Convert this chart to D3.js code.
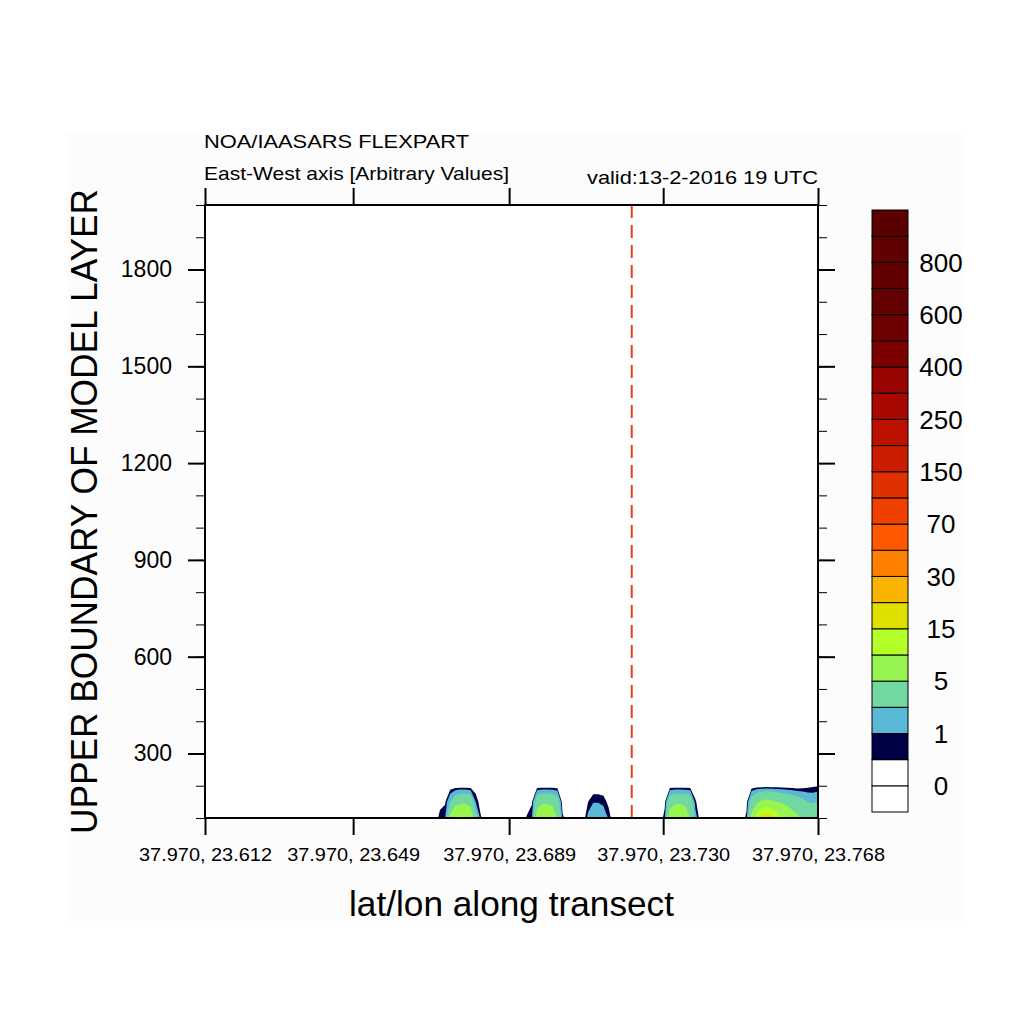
<!DOCTYPE html>
<html>
<head>
<meta charset="utf-8">
<script src="https://cdn.jsdelivr.net/npm/d3@7"></script>
<style>
  body { margin: 0; background: #fff; }
  svg text { font-family: "Liberation Sans", Arial, Helvetica, sans-serif; fill: #000; }
</style>
</head>
<body>
<svg id="chart" width="1024" height="1024"></svg>
<script>
// FLEXPART vertical cross-section along an east-west transect

// transect grid: 121 points along longitude, 3 model levels (upper boundary, m)
var lonStart = 23.612;
var lonEnd = 23.768;
var levelHeights = [100, 150, 200];

// concentrations on each level (arbitrary units), west -> east
var conc100 = [
  0, 0, 0, 0, 0, 0, 0, 0, 0, 0,
  0, 0, 0, 0, 0, 0, 0, 0, 0, 0,
  0, 0, 0, 0, 0, 0, 0, 0, 0, 0,
  0, 0, 0, 0, 0, 0, 0, 0, 0, 0,
  0, 0, 0, 0, 0, 0, 0.8, 0.95, 6, 9.5,
  11.5, 11, 8, 3, 0.6, 0, 0, 0, 0, 0,
  0, 0, 0, 0.6, 0.95, 7, 10.5, 10.8, 8, 5,
  0.7, 0, 0, 0, 0, 1.3, 1.8, 1.9, 1.6, 0.9,
  0, 0, 0, 0, 0, 0, 0, 0, 0, 0,
  0.8, 7, 10.5, 10.5, 8, 5, 1.5, 0, 0, 0,
  0, 0, 0, 0, 0, 0, 0.7, 6, 12, 17,
  18, 16.5, 13, 10, 8, 6.5, 5.5, 4.8, 4.2, 3.8,
  3.6
];
var conc150 = [
  0, 0, 0, 0, 0, 0, 0, 0, 0, 0,
  0, 0, 0, 0, 0, 0, 0, 0, 0, 0,
  0, 0, 0, 0, 0, 0, 0, 0, 0, 0,
  0, 0, 0, 0, 0, 0, 0, 0, 0, 0,
  0, 0, 0, 0, 0, 0, 0.2, 0.4, 2, 3.5,
  4.2, 4.2, 3.6, 1.0, 0, 0, 0, 0, 0, 0,
  0, 0, 0, 0, 0.4, 3.5, 4.2, 4.2, 4, 3.2,
  0, 0, 0, 0, 0, 0.5, 0.95, 0.95, 0.8, 0.3,
  0, 0, 0, 0, 0, 0, 0, 0, 0, 0,
  0.3, 3.5, 4.2, 4.2, 4, 3.5, 0.6, 0, 0, 0,
  0, 0, 0, 0, 0, 0, 0.2, 3, 4.5, 5.5,
  6, 5.5, 5, 4.5, 4, 3.5, 3, 2.5, 2, 1.8,
  2
];
var conc200 = [
  0, 0, 0, 0, 0, 0, 0, 0, 0, 0,
  0, 0, 0, 0, 0, 0, 0, 0, 0, 0,
  0, 0, 0, 0, 0, 0, 0, 0, 0, 0,
  0, 0, 0, 0, 0, 0, 0, 0, 0, 0,
  0, 0, 0, 0, 0, 0, 0, 0, 0, 0,
  0, 0, 0, 0, 0, 0, 0, 0, 0, 0,
  0, 0, 0, 0, 0, 0, 0, 0, 0, 0,
  0, 0, 0, 0, 0, 0, 0, 0, 0, 0,
  0, 0, 0, 0, 0, 0, 0, 0, 0, 0,
  0, 0, 0, 0, 0, 0, 0, 0, 0, 0,
  0, 0, 0, 0, 0, 0, 0, 0, 0, 0,
  0, 0, 0, 0, 0, 0, 0, 0.15, 0.3, 0.4,
  0.45
];

// contour levels and colours (one more colour than levels)
var levels = [0, 0.5, 1, 2, 5, 10, 15, 20, 30, 50, 70, 100, 150, 200, 250, 300, 400, 500, 600, 700, 800, 900];
var bandColors = ['#ffffff', '#ffffff', '#000046', '#58b8d6', '#70d8a0', '#98f450', '#b4ff28', '#e0e000',
  '#f8b400', '#ff8000', '#ff5800', '#f04000', '#e03000', '#cc1c00', '#bc1000', '#a80800', '#980400',
  '#7c0000', '#6e0000', '#640000', '#620000', '#600000', '#5a0000'];
var barLabels = [0, 1, 5, 15, 30, 70, 150, 250, 400, 600, 800];

// axes
var yMajor = [300, 600, 900, 1200, 1500, 1800];
var yMinor = [100, 200, 300, 400, 500, 600, 700, 800, 900, 1000, 1100, 1200, 1300, 1400, 1500, 1600, 1700, 1800, 1900, 2000];
var xTickLon = [23.612, 23.6497, 23.6894, 23.7286, 23.768];
var xTickLabels = ['37.970, 23.612', '37.970, 23.649', '37.970, 23.689', '37.970, 23.730', '37.970, 23.768'];
var sourceLon = 23.7206;

var titleLeft = 'NOA/IAASARS FLEXPART';
var subLeft = 'East-West axis [Arbitrary Values]';
var subRight = 'valid:13-2-2016 19 UTC';

var plot = { left: 205, right: 818, top: 205, bottom: 818 };

var svg = d3.select('#chart');

var x = d3.scaleLinear().domain([lonStart, lonEnd]).range([plot.left, plot.right]);
var y = d3.scaleLinear().domain([100, 2000]).range([plot.bottom, plot.top]);

// faint page background and white plot area
svg.append('rect').attr('x', 67).attr('y', 133).attr('width', 896).attr('height', 788).attr('fill', '#fcfcfc');
svg.append('rect')
  .attr('x', plot.left).attr('y', plot.top)
  .attr('width', plot.right - plot.left).attr('height', plot.bottom - plot.top)
  .attr('fill', '#fff');

svg.append('clipPath').attr('id', 'plotclip')
  .append('rect')
  .attr('x', plot.left).attr('y', plot.top)
  .attr('width', plot.right - plot.left).attr('height', plot.bottom - plot.top);

// filled contours
var nx = conc100.length, ny = levelHeights.length;
var values = [].concat(conc100, conc150, conc200);
var colLon = d3.scaleLinear().domain([0, nx - 1]).range([lonStart, lonEnd]);
var rowHeight = d3.scaleLinear().domain([0, ny - 1]).range([levelHeights[0], levelHeights[ny - 1]]);

var gridProj = d3.geoTransform({
  point: function(gx, gy) {
    this.stream.point(x(colLon(gx - 0.5)), y(rowHeight(gy - 0.5)));
  }
});
var path = d3.geoPath(gridProj);

var bands = d3.contours().size([nx, ny]).thresholds(levels.slice(1))(values);

svg.append('g').attr('clip-path', 'url(#plotclip)')
  .selectAll('path')
  .data(bands)
  .enter()
  .append('path')
  .attr('d', path)
  .attr('fill', function(d) { return bandColors[levels.indexOf(d.value) + 1]; })
  .attr('stroke', 'none');

// source marker
svg.append('line')
  .attr('x1', x(sourceLon)).attr('x2', x(sourceLon))
  .attr('y1', plot.top).attr('y2', plot.bottom)
  .attr('stroke', '#e4401c').attr('stroke-width', 2)
  .attr('stroke-dasharray', '13,7');

// axes
function drawAxis(axis, tx, ty, width) {
  var g = svg.append('g').attr('transform', 'translate(' + tx + ',' + ty + ')').call(axis);
  g.select('.domain').remove();
  g.selectAll('.tick line').attr('stroke', '#000').attr('stroke-width', width);
  return g;
}

drawAxis(d3.axisLeft(y).tickValues(yMinor).tickSize(9).tickFormat(''), plot.left, 0, 1);
drawAxis(d3.axisRight(y).tickValues(yMinor).tickSize(9).tickFormat(''), plot.right, 0, 1);
var yLeft = drawAxis(d3.axisLeft(y).tickValues(yMajor).tickSize(17).tickPadding(16).tickFormat(d3.format('d')), plot.left, 0, 2);
yLeft.selectAll('text').attr('font-size', 23).attr('font-family', null);
drawAxis(d3.axisRight(y).tickValues(yMajor).tickSize(17).tickFormat(''), plot.right, 0, 2);

drawAxis(d3.axisTop(x).tickValues(xTickLon).tickSize(17).tickFormat(''), 0, plot.top, 2);
var xBottom = drawAxis(d3.axisBottom(x).tickValues(xTickLon).tickSize(17).tickPadding(13)
  .tickFormat(function(d, i) { return xTickLabels[i]; }), 0, plot.bottom, 2);
xBottom.selectAll('text').attr('font-size', 18.5).attr('font-family', null)
  .attr('textLength', 133).attr('lengthAdjust', 'spacingAndGlyphs');

// frame
svg.append('rect')
  .attr('x', plot.left).attr('y', plot.top)
  .attr('width', plot.right - plot.left).attr('height', plot.bottom - plot.top)
  .attr('fill', 'none').attr('stroke', '#000').attr('stroke-width', 2);

// titles
svg.append('text').attr('x', 204).attr('y', 148).attr('font-size', 19)
  .attr('textLength', 265).attr('lengthAdjust', 'spacingAndGlyphs').text(titleLeft);
svg.append('text').attr('x', 204).attr('y', 180).attr('font-size', 19)
  .attr('textLength', 305).attr('lengthAdjust', 'spacingAndGlyphs').text(subLeft);
svg.append('text').attr('x', 587).attr('y', 184).attr('font-size', 19)
  .attr('textLength', 231).attr('lengthAdjust', 'spacingAndGlyphs').text(subRight);

svg.append('text')
  .attr('x', (plot.left + plot.right) / 2).attr('y', 916)
  .attr('text-anchor', 'middle').attr('font-size', 35)
  .attr('textLength', 325).attr('lengthAdjust', 'spacingAndGlyphs')
  .text('lat/lon along transect');

svg.append('text')
  .attr('transform', 'translate(97,' + (plot.top + plot.bottom) / 2 + ') rotate(-90)')
  .attr('text-anchor', 'middle').attr('font-size', 37)
  .attr('textLength', 645).attr('lengthAdjust', 'spacingAndGlyphs')
  .text('UPPER BOUNDARY OF MODEL LAYER');

// colour bar
var bar = { x: 872, w: 36, top: 210, bottom: 812 };
var barY = d3.scaleLinear().domain([0, bandColors.length]).range([bar.bottom, bar.top]);

svg.append('g').selectAll('rect')
  .data(bandColors)
  .enter()
  .append('rect')
  .attr('x', bar.x)
  .attr('y', function(d, i) { return barY(i + 1); })
  .attr('width', bar.w)
  .attr('height', function(d, i) { return barY(i) - barY(i + 1); })
  .attr('fill', function(d) { return d; })
  .attr('stroke', '#000').attr('stroke-width', 1);

svg.append('g').selectAll('text')
  .data(barLabels)
  .enter()
  .append('text')
  .attr('x', 941)
  .attr('y', function(d) { return barY(levels.indexOf(d) + 1); })
  .attr('dy', '0.36em')
  .attr('text-anchor', 'middle')
  .attr('font-size', 26)
  .text(function(d) { return d; });
</script>
</body>
</html>
